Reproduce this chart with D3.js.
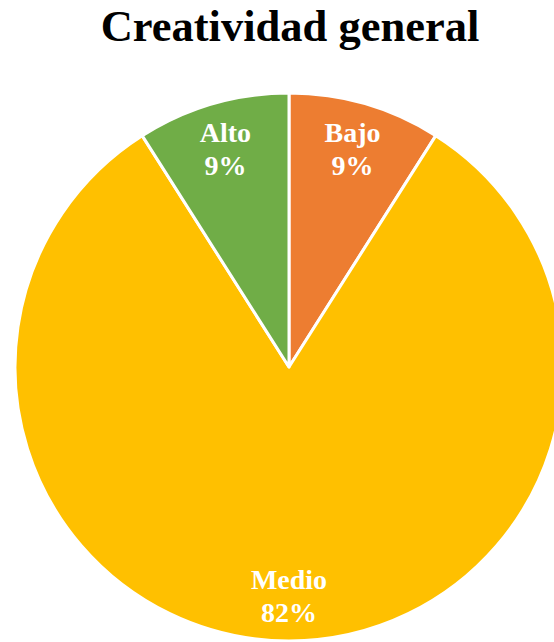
<!DOCTYPE html>
<html>
<head>
<meta charset="utf-8">
<script src="https://cdn.jsdelivr.net/npm/d3@7"></script>
<style>
  html, body { margin: 0; padding: 0; background: #ffffff; overflow: hidden; }
  svg { display: block; }
</style>
</head>
<body>
<svg id="chart" width="554" height="642"></svg>
<script>
// Niveles de creatividad general (porcentaje)
const categories = ["Bajo", "Medio", "Alto"];
const values = [9, 82, 9];
const colors = ["#ED7D31", "#FFC000", "#70AD47"];
const title = "Creatividad general";

const width = 554, height = 642;
const cx = 289, cy = 367, radius = 274;

const svg = d3.select("#chart");

svg.append("text")
  .attr("x", 290)
  .attr("y", 41)
  .attr("text-anchor", "middle")
  .attr("font-family", "'Liberation Serif', 'Times New Roman', serif")
  .attr("font-weight", "bold")
  .attr("font-size", 44.5)
  .attr("fill", "#000000")
  .text(title);

const data = categories.map((c, i) => ({ name: c, value: values[i], color: colors[i] }));

const pie = d3.pie().value(d => d.value).sort(null);
const arc = d3.arc().innerRadius(0).outerRadius(radius);
const labelArc = d3.arc().innerRadius(228).outerRadius(228);

const g = svg.append("g").attr("transform", `translate(${cx},${cy})`);
const arcs = pie(data);

g.selectAll("path.slice")
  .data(arcs)
  .join("path")
  .attr("class", "slice")
  .attr("d", arc)
  .attr("fill", d => d.data.color)
  .attr("stroke", "#ffffff")
  .attr("stroke-width", 3)
  .attr("stroke-linejoin", "round");

const labels = g.selectAll("text.lbl")
  .data(arcs)
  .join("text")
  .attr("class", "lbl")
  .attr("transform", d => `translate(${labelArc.centroid(d)})`)
  .attr("text-anchor", "middle")
  .attr("font-family", "'Liberation Serif', 'Times New Roman', serif")
  .attr("font-weight", "bold")
  .attr("font-size", 28)
  .attr("fill", "#ffffff");

labels.append("tspan")
  .attr("x", 0)
  .attr("y", -6)
  .text(d => d.data.name);

labels.append("tspan")
  .attr("x", 0)
  .attr("y", 27)
  .text(d => d.data.value + "%");
</script>
</body>
</html>
